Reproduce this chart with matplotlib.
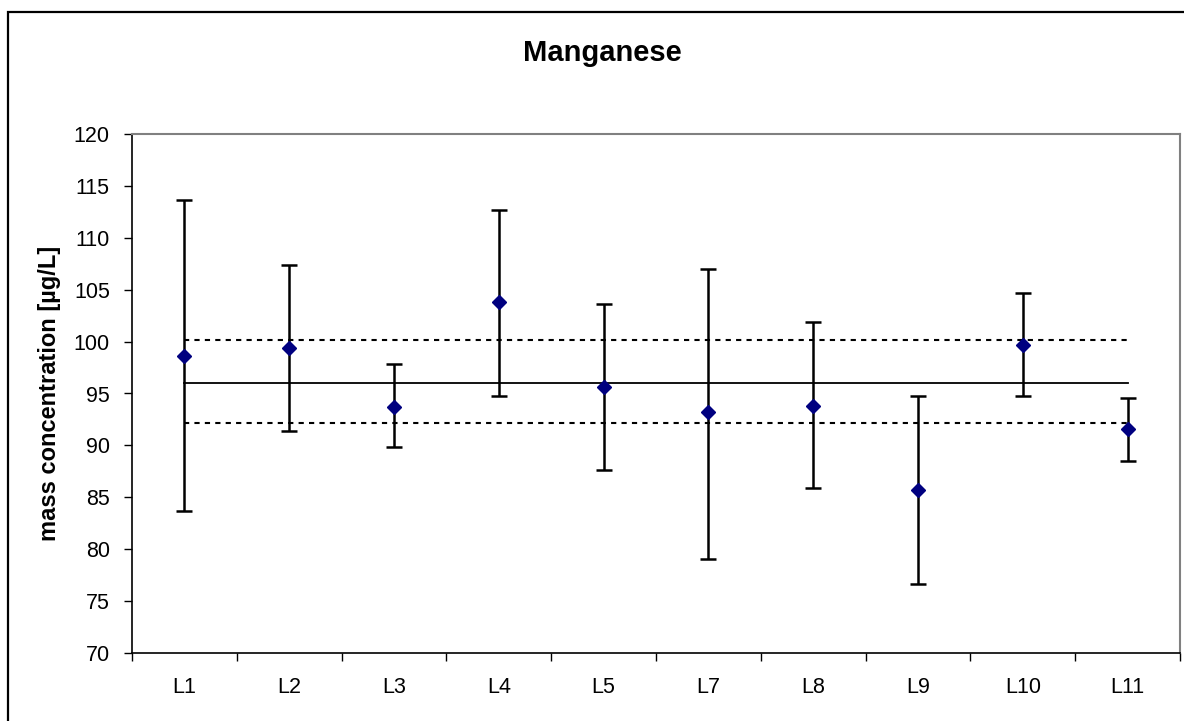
import matplotlib
matplotlib.use("Agg")
import matplotlib.pyplot as plt
from matplotlib.patches import Rectangle

plt.rcParams['font.family'] = ['Liberation Sans', 'DejaVu Sans']

labs = ["L1", "L2", "L3", "L4", "L5", "L7", "L8", "L9", "L10", "L11"]
values = [98.6, 99.4, 93.7, 103.8, 95.6, 93.2, 93.8, 85.7, 99.7, 91.6]
upper = [113.6, 107.4, 97.8, 112.7, 103.6, 107.0, 101.9, 94.8, 104.7, 94.6]
lower = [83.7, 91.4, 89.8, 94.8, 87.6, 79.1, 85.9, 76.6, 94.8, 88.5]
mean_val = 96.0
lim_hi = 100.15
lim_lo = 92.2
yticks = list(range(70, 121, 5))

fig = plt.figure(figsize=(11.84, 7.21), dpi=100)
W, H = 1184, 721
L, R, T, B = 132, 1180, 134, 653
ax = fig.add_axes([L / W, 1 - B / H, (R - L) / W, (B - T) / H])

x = list(range(len(labs)))
yerr = [[v - lo for v, lo in zip(values, lower)], [u - v for v, u in zip(values, upper)]]
ax.plot([x[0], x[-1]], [mean_val, mean_val], color='black', lw=1.3, zorder=2)
ax.plot([x[0], x[-1]], [lim_hi, lim_hi], color='black', lw=1.5, ls=(0, (2.5, 2.5)), zorder=2)
ax.plot([x[0], x[-1]], [lim_lo, lim_lo], color='black', lw=1.5, ls=(0, (2.5, 2.5)), zorder=2)
ax.errorbar(x, values, yerr=yerr, fmt='D', color='#000080', ms=7,
            ecolor='black', elinewidth=1.8, capsize=5.5, capthick=1.8, zorder=3)

ax.set_xlim(-0.5, len(labs) - 0.5)
ax.set_ylim(70, 120)
ax.set_yticks(yticks)
ax.set_xticks(x)
ax.set_xticklabels(labs)
ax.set_xticks([i + 0.5 for i in range(-1, len(labs))], minor=True)
ax.tick_params(axis='x', which='major', length=0, pad=17, labelsize=15.5)
ax.tick_params(axis='x', which='minor', length=6, width=1, direction='out')
ax.tick_params(axis='y', length=6, width=1, direction='out', pad=10, labelsize=15.5)

for s in ['top', 'right']:
    ax.spines[s].set_color('#808080')
    ax.spines[s].set_linewidth(1.5)
for s in ['left', 'bottom']:
    ax.spines[s].set_color('black')
    ax.spines[s].set_linewidth(1.2)

fig.text(602 / W, 1 - 53 / H, "Manganese", ha='center', va='center',
         fontsize=21, fontweight='bold')
fig.text(50 / W, 1 - 393 / H, "mass concentration [µg/L]", ha='center', va='center',
         rotation=90, fontsize=17, fontweight='bold')

fig.patches.append(Rectangle((8 / W, -0.1), 1.2, 1 - 12 / H + 0.1, transform=fig.transFigure,
                             fill=False, edgecolor='black', lw=1.6))

fig.savefig("out.png", dpi=100)
